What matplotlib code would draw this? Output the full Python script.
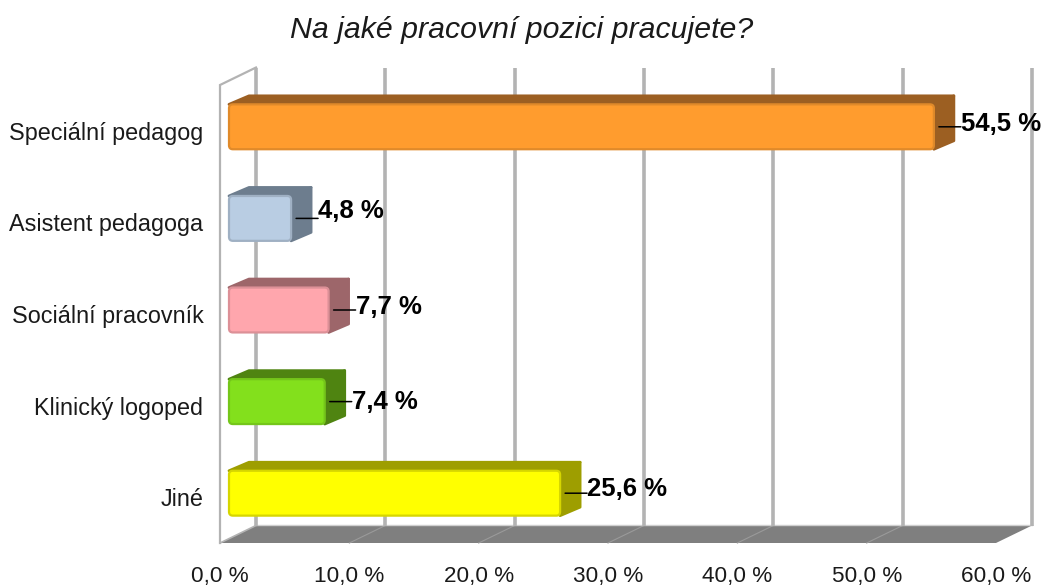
import matplotlib.pyplot as plt
from matplotlib.patches import FancyBboxPatch
import numpy as np

categories = ['Speciální pedagog', 'Asistent pedagoga', 'Sociální pracovník', 'Klinický logoped', 'Jiné']
values = [54.5, 4.8, 7.7, 7.4, 25.6]
value_labels = ['54,5 %', '4,8 %', '7,7 %', '7,4 %', '25,6 %']
x_ticks = [0, 10, 20, 30, 40, 50, 60]
x_labels = ['0,0 %', '10,0 %', '20,0 %', '30,0 %', '40,0 %', '50,0 %', '60,0 %']

front_colors = ['#ff9c2e', '#b9cde3', '#ffa6ad', '#83e01c', '#ffff00']
edge_colors = ['#e08a2a', '#9fb0c3', '#dc9097', '#74c61a', '#d6d600']
side_colors = ['#9c5f22', '#6d7d8e', '#9d666a', '#4f8411', '#9e9e00']
# pixels the label sits above the leader line
label_lift = [3, 7, 3, 0, 4]

plt.rcParams['font.family'] = ['Liberation Sans', 'DejaVu Sans']

W, H = 1045, 586
fig = plt.figure(figsize=(W / 100, H / 100), dpi=100, facecolor='white')
ax = fig.add_axes([220 / W, (H - 543) / H, 776 / W, 458 / H])
ax.set_xlim(0, 60)
ax.set_ylim(5, 0)
for s in ax.spines.values():
    s.set_visible(False)

px_x = 776 / 60
px_y = 458 / 5

# depth of the fake 3d box in data units
depth_x = 36 / px_x
depth_y = 17.5 / px_y
grid_c = '#b3b3b3'

# floor
ax.fill([0, 60, 60 + depth_x, depth_x], [5, 5, 5 - depth_y, 5 - depth_y],
        color='#7f7f7f', lw=0, clip_on=False, zorder=1)
for t in x_ticks[1:-1]:
    ax.plot([t, t + depth_x], [5, 5 - depth_y], color='#9a9a9a', lw=0.8, clip_on=False, zorder=1.5)
ax.plot([depth_x, 60 + depth_x], [5 - depth_y - 1 / px_y] * 2, color='#cfcfcf', lw=1,
        clip_on=False, zorder=1.5)

# back grid lines and left wall
for t in x_ticks:
    ax.plot([t + depth_x, t + depth_x], [5 - depth_y, -depth_y], color=grid_c, lw=2.6,
            clip_on=False, zorder=2, solid_capstyle='butt')
ax.plot([0, 0, depth_x], [5, 0, -depth_y], color=grid_c, lw=1.6, clip_on=False, zorder=2,
        solid_joinstyle='miter')
ax.plot([0, depth_x], [5, 5 - depth_y], color=grid_c, lw=1.2, clip_on=False, zorder=2)

# bars
y_pos = np.arange(len(categories)) + 0.5
bar_h = 0.49
x0 = 9 / px_x
shift = 4 / px_y
dx = 20 / px_x
dy = 8.5 / px_y

for y, v, fc, ec, sc, txt, lift in zip(y_pos, values, front_colors, edge_colors, side_colors,
                                       value_labels, label_lift):
    top = y - shift - bar_h / 2
    bot = y - shift + bar_h / 2
    ax.fill([x0, x0 + dx, x0 + v + dx, x0 + v], [top, top - dy, top - dy, top],
            color=sc, lw=2, joinstyle='round', clip_on=False, zorder=3)
    ax.fill([x0 + v, x0 + v + dx, x0 + v + dx, x0 + v], [top, top - dy, bot - dy, bot],
            color=sc, lw=2, joinstyle='round', clip_on=False, zorder=3)
    box = FancyBboxPatch((x0, top), v, bar_h, boxstyle='round,pad=0,rounding_size=0.3',
                         mutation_aspect=px_x / px_y, facecolor=fc, edgecolor=ec, linewidth=1.6,
                         clip_on=False, zorder=4)
    ax.add_patch(box)
    # leader line, label sits at its end
    ax.annotate('', xy=(x0 + v, y - shift), xytext=(27, 0), textcoords='offset pixels',
                annotation_clip=False, zorder=5,
                arrowprops=dict(arrowstyle='-', color='black', lw=1.1, shrinkA=0, shrinkB=3.6))
    ax.annotate(txt, xy=(x0 + v, y - shift), xytext=(27, lift), textcoords='offset pixels',
                fontsize=18.5, fontweight='bold', color='black', ha='left', va='center',
                zorder=6, annotation_clip=False)

ax.set_yticks(y_pos)
ax.set_yticklabels(categories, fontsize=16.8, color='#1a1a1a')
ax.set_xticks(x_ticks)
ax.set_xticklabels(x_labels, fontsize=16.2, color='#1a1a1a')
ax.tick_params(axis='y', length=0, pad=12)
ax.tick_params(axis='x', length=0, pad=16.5)

fig.text(522 / W, 1 - 30 / H, 'Na jaké pracovní pozici pracujete?', fontsize=21.8, fontstyle='italic',
         color='#1a1a1a', ha='center', va='center')

fig.savefig('out.png', dpi=100)
